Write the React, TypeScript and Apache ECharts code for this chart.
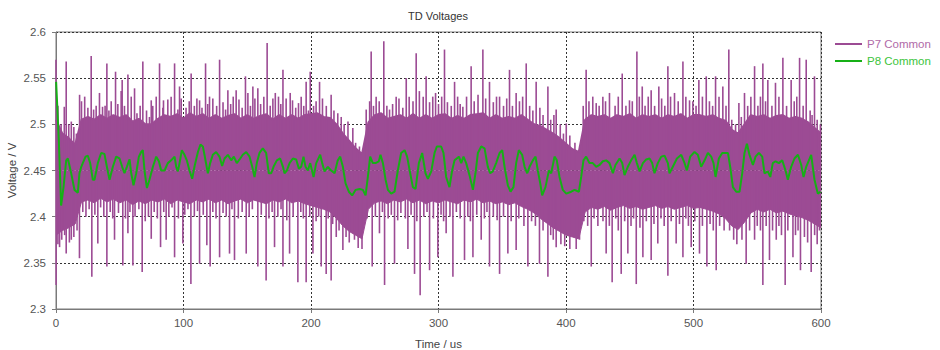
import React, { useEffect, useRef } from "react";
import * as echarts from "echarts";

// ---- Data ----
const chartTitle = "TD Voltages";
const seriesNames = ["P7 Common", "P8 Common"];
const xTicks = [0, 100, 200, 300, 400, 500, 600];
const yTicks = [2.3, 2.35, 2.4, 2.45, 2.5, 2.55, 2.6];

// P7 Common: dense oscillation band, upper/lower envelope every 5 us (t = 0..600)
const p7BandHi = [
  2.505, 2.49, 2.485, 2.478, 2.505, 2.508, 2.505, 2.51, 2.506, 2.51, 2.507, 2.51, 2.503, 2.506, 2.5, 2.5,
  2.506, 2.51, 2.508, 2.511, 2.506, 2.512, 2.508, 2.511, 2.506, 2.51, 2.506, 2.509, 2.511, 2.506, 2.51, 2.506,
  2.509, 2.511, 2.505, 2.51, 2.506, 2.51, 2.506, 2.51, 2.511, 2.512, 2.508, 2.507, 2.5, 2.49, 2.482, 2.474,
  2.468, 2.502, 2.51, 2.512, 2.506, 2.508, 2.51, 2.506, 2.511, 2.506, 2.51, 2.506, 2.51, 2.511, 2.506, 2.509,
  2.506, 2.51, 2.511, 2.512, 2.506, 2.51, 2.506, 2.508, 2.506, 2.51, 2.505, 2.5, 2.498, 2.494, 2.49, 2.485,
  2.479, 2.473, 2.47, 2.505, 2.51, 2.508, 2.51, 2.506, 2.51, 2.508, 2.511, 2.506, 2.51, 2.508, 2.51, 2.506,
  2.51, 2.508, 2.511, 2.506, 2.51, 2.51, 2.508, 2.51, 2.506, 2.504, 2.494, 2.49, 2.5, 2.51, 2.508, 2.51,
  2.506, 2.509, 2.51, 2.506, 2.508, 2.506, 2.502, 2.496, 2.49,
];
const p7BandLo = [
  2.38, 2.385, 2.388, 2.392, 2.416, 2.418, 2.415, 2.42, 2.416, 2.419, 2.415, 2.418, 2.413, 2.417, 2.414, 2.418,
  2.416, 2.419, 2.414, 2.418, 2.416, 2.414, 2.418, 2.416, 2.419, 2.415, 2.418, 2.414, 2.417, 2.419, 2.415, 2.418,
  2.416, 2.414, 2.418, 2.416, 2.419, 2.415, 2.417, 2.414, 2.412, 2.41, 2.408, 2.405, 2.398, 2.39, 2.384, 2.38,
  2.376, 2.408, 2.415, 2.417, 2.414, 2.418, 2.416, 2.419, 2.415, 2.418, 2.414, 2.417, 2.415, 2.418, 2.416, 2.414,
  2.418, 2.416, 2.419, 2.415, 2.417, 2.414, 2.416, 2.413, 2.415, 2.411, 2.408, 2.404, 2.398, 2.393, 2.388, 2.384,
  2.38, 2.378, 2.376, 2.405, 2.41, 2.408, 2.411, 2.407, 2.41, 2.412, 2.409, 2.411, 2.408, 2.41, 2.412, 2.409,
  2.411, 2.408, 2.41, 2.412, 2.409, 2.41, 2.408, 2.406, 2.403, 2.398, 2.39, 2.386, 2.394, 2.404, 2.408, 2.405,
  2.408, 2.404, 2.406, 2.403, 2.401, 2.399, 2.396, 2.392, 2.388,
];
const p7BandStep = 5;
const p7BandMid = 2.45;

// P7 Common: large spikes [time us, peak V]
const p7UpSpikes: [number, number][] = [
  [0, 2.57], [8, 2.568], [12, 2.503], [18.5, 2.532], [27.6, 2.574], [34.1, 2.534], [39.9, 2.566], [46.7, 2.557],
  [51.9, 2.548], [56.4, 2.554], [61.6, 2.539], [68.1, 2.568], [74.7, 2.526], [81.2, 2.566], [84.3, 2.526],
  [93, 2.566], [96.9, 2.541], [106, 2.555], [112.6, 2.526], [117.3, 2.566], [120.4, 2.53], [128.3, 2.57],
  [134.8, 2.537], [141.3, 2.537], [148.6, 2.552], [154.4, 2.541], [158.3, 2.539], [165.6, 2.588], [170.1, 2.528],
  [178, 2.559], [183.7, 2.534], [190.2, 2.523], [196.2, 2.546], [199.4, 2.557], [206.7, 2.546], [215.8, 2.532],
  [223.7, 2.508], [232.8, 2.496], [243.3, 2.516], [247.2, 2.579], [251.1, 2.53], [257.1, 2.59], [261.6, 2.516],
  [266.8, 2.53], [274.7, 2.55], [282.5, 2.577], [290.3, 2.552], [297.7, 2.534], [304.7, 2.581], [312.6, 2.546],
  [319.1, 2.519], [325.6, 2.563], [334.8, 2.581], [340, 2.546], [347.9, 2.53], [355.7, 2.559], [360.9, 2.534],
  [368.8, 2.566], [376.6, 2.546], [385.8, 2.541], [392.3, 2.516], [400.2, 2.501], [415.8, 2.559], [423.7, 2.523],
  [428.9, 2.53], [434.1, 2.534], [444.1, 2.555], [449.8, 2.526], [455.6, 2.579], [459.8, 2.541], [466.8, 2.537],
  [472.8, 2.541], [479.9, 2.563], [485.1, 2.534], [491.7, 2.568], [496.9, 2.526], [504.2, 2.548], [510, 2.552],
  [517.3, 2.552], [523, 2.541], [527.7, 2.581], [535.6, 2.523], [540, 2.534], [547.9, 2.563], [554.4, 2.566],
  [558.3, 2.548], [564.3, 2.545], [570.1, 2.572], [576.6, 2.548], [583.2, 2.572], [588.4, 2.57], [594.9, 2.552],
];
const p7DownSpikes: [number, number][] = [
  [0.1, 2.326], [2.8, 2.367], [8, 2.36], [12, 2.375], [18.4, 2.355], [28.1, 2.335], [32.8, 2.371], [39.9, 2.346],
  [45.9, 2.375], [52.4, 2.347], [56.4, 2.382], [60.3, 2.347], [67.6, 2.34], [74.7, 2.376], [82, 2.367],
  [86.4, 2.375], [93, 2.356], [99.5, 2.371], [105.8, 2.327], [112.6, 2.349], [118.3, 2.369], [120.9, 2.346],
  [128.3, 2.356], [136.1, 2.36], [140, 2.353], [149.2, 2.36], [158.3, 2.346], [164.8, 2.331], [171.4, 2.367],
  [178, 2.346], [183.2, 2.36], [189.7, 2.329], [196.2, 2.329], [201.5, 2.36], [208, 2.346], [211.9, 2.338],
  [215.8, 2.331], [219.8, 2.378], [225, 2.364], [234.1, 2.375], [248, 2.346], [253.7, 2.382], [257.7, 2.326],
  [265.5, 2.349], [276, 2.365], [281.2, 2.338], [285.6, 2.315], [293, 2.342], [299.5, 2.356], [306, 2.382],
  [311.3, 2.335], [320.4, 2.353], [327, 2.356], [333.5, 2.375], [340, 2.346], [347.9, 2.338], [354.4, 2.36],
  [360.9, 2.364], [370.1, 2.346], [379.2, 2.349], [385.8, 2.335], [392.3, 2.367], [410.6, 2.375], [419.8, 2.346],
  [431.5, 2.36], [436.2, 2.329], [443.3, 2.338], [448.5, 2.36], [455.1, 2.327], [460.3, 2.356], [466.8, 2.353],
  [472, 2.371], [479.9, 2.336], [486.4, 2.371], [491.7, 2.356], [498.2, 2.367], [504.7, 2.36], [510.5, 2.346],
  [517.8, 2.342], [528.3, 2.385], [541.3, 2.349], [547.9, 2.375], [554.4, 2.326], [559.6, 2.353], [564.9, 2.375],
  [571.9, 2.326], [578, 2.356], [583.9, 2.342], [592.3, 2.34], [598.8, 2.385],
];

// P7 Common: small fringe spikes along the band edges [time us, peak V]
const p7FringeUp: [number, number][] = [
  [1.5, 2.52], [4, 2.5], [6.5, 2.519], [10, 2.5], [14, 2.497], [16, 2.49], [20, 2.525], [22.5, 2.53], [25, 2.518],
  [29.5, 2.516], [31.5, 2.52], [36.5, 2.519], [38.5, 2.52], [41.5, 2.515], [43.3, 2.525], [48.5, 2.522],
  [51.1, 2.536], [53.7, 2.52], [59, 2.53], [63.5, 2.512], [66, 2.52], [71, 2.515], [73.3, 2.508], [75.9, 2.52],
  [78.6, 2.53], [83.8, 2.518], [87.7, 2.527], [90.3, 2.53], [95.6, 2.516], [98.2, 2.528], [102, 2.518],
  [104.5, 2.525], [108.5, 2.52], [110.5, 2.528], [114.5, 2.518], [119, 2.522], [123, 2.528], [126, 2.52],
  [131, 2.524], [133, 2.516], [137, 2.522], [139, 2.53], [143.5, 2.527], [146, 2.518], [150.5, 2.534],
  [152.5, 2.52], [156, 2.528], [160.5, 2.522], [163, 2.53], [168, 2.52], [172, 2.534], [174.5, 2.53],
  [176.3, 2.522], [180.5, 2.528], [185.5, 2.526], [188, 2.518], [192.3, 2.53], [194.3, 2.52], [198, 2.515],
  [202, 2.52], [204, 2.525], [209, 2.528], [212, 2.52], [218, 2.515], [221, 2.512], [226, 2.5], [229, 2.503],
  [235, 2.48], [238, 2.476], [246, 2.525], [249, 2.52], [253.5, 2.525], [259.5, 2.52], [264, 2.522], [269, 2.528],
  [272, 2.518], [277, 2.53], [280, 2.525], [285, 2.536], [288, 2.53], [293, 2.524], [295.5, 2.53], [300, 2.522],
  [302.5, 2.53], [307, 2.524], [310, 2.52], [315, 2.53], [317, 2.522], [322, 2.53], [328, 2.525], [331, 2.532],
  [337, 2.528], [343, 2.524], [345.5, 2.53], [351, 2.52], [353.5, 2.528], [358, 2.52], [363.5, 2.525],
  [366, 2.53], [371.5, 2.52], [374, 2.515], [379.5, 2.518], [382, 2.51], [388, 2.505], [390.5, 2.51],
  [395.5, 2.5], [398, 2.49], [403, 2.488], [407, 2.48], [413.5, 2.52], [418, 2.525], [421, 2.53], [426, 2.52],
  [431, 2.525], [438.5, 2.52], [441, 2.53], [447, 2.52], [452, 2.525], [457.5, 2.53], [462, 2.52], [464.5, 2.53],
  [469.5, 2.52], [475, 2.528], [477.5, 2.52], [482, 2.53], [488, 2.525], [494, 2.53], [499.5, 2.525], [502, 2.52],
  [507, 2.53], [512.5, 2.525], [515, 2.52], [520, 2.53], [525.5, 2.52], [530, 2.505], [533, 2.5], [537.5, 2.508],
  [542.5, 2.52], [545, 2.53], [550.5, 2.52], [552.5, 2.53], [556.5, 2.525], [561.5, 2.52], [567, 2.53],
  [573, 2.52], [579, 2.525], [581, 2.53], [586, 2.52], [591.5, 2.515], [593, 2.51], [597, 2.505], [599.5, 2.5],
];
const p7FringeDown: [number, number][] = [
  [1.5, 2.37], [4.5, 2.375], [6.8, 2.38], [10.5, 2.372], [14, 2.378], [16.5, 2.385], [21, 2.405], [23.5, 2.4],
  [26, 2.408], [30.5, 2.402], [35, 2.41], [37.5, 2.4], [42.5, 2.405], [44.5, 2.398], [49, 2.404], [54.5, 2.398],
  [58, 2.405], [62, 2.4], [65, 2.408], [70, 2.395], [72.5, 2.4], [77, 2.405], [79.5, 2.398], [84.5, 2.405],
  [88.5, 2.4], [91, 2.41], [96, 2.398], [101, 2.402], [103.5, 2.408], [108.5, 2.4], [111, 2.406], [115.5, 2.402],
  [123, 2.405], [125.5, 2.398], [131, 2.404], [133.5, 2.4], [138, 2.408], [143, 2.398], [146, 2.405],
  [151.5, 2.4], [154, 2.408], [161, 2.402], [167, 2.398], [169.5, 2.405], [174, 2.4], [176.5, 2.408],
  [181, 2.396], [186, 2.4], [192, 2.405], [194, 2.398], [199, 2.4], [204, 2.395], [206, 2.4], [213.5, 2.398],
  [217, 2.392], [222, 2.385], [227.5, 2.378], [230, 2.372], [237, 2.366], [240, 2.365], [244, 2.398],
  [250.5, 2.4], [256, 2.405], [260.5, 2.398], [263, 2.402], [268, 2.396], [270.5, 2.404], [274, 2.398],
  [278.5, 2.402], [283, 2.395], [288.5, 2.4], [291, 2.405], [296, 2.398], [302, 2.402], [304, 2.395], [309, 2.4],
  [314, 2.405], [317, 2.398], [323, 2.4], [325, 2.395], [330, 2.402], [336, 2.398], [338, 2.405], [343, 2.4],
  [346, 2.396], [351, 2.4], [357, 2.395], [363, 2.398], [367, 2.39], [373, 2.395], [376, 2.39], [382, 2.385],
  [388, 2.38], [390, 2.375], [396, 2.37], [399, 2.368], [403, 2.365], [408, 2.365], [414, 2.395], [417, 2.39],
  [422, 2.398], [425, 2.39], [429, 2.395], [434, 2.39], [439, 2.398], [441, 2.385], [446, 2.395], [451, 2.39],
  [453, 2.398], [458, 2.388], [463, 2.395], [469, 2.392], [474.5, 2.398], [477, 2.39], [482.5, 2.395],
  [489, 2.392], [494, 2.398], [496, 2.39], [501, 2.395], [507, 2.39], [513, 2.392], [515.5, 2.385], [520.5, 2.39],
  [524, 2.385], [531.5, 2.375], [534, 2.37], [538, 2.375], [544, 2.385], [550, 2.39], [552.5, 2.385], [557, 2.39],
  [562, 2.385], [567, 2.39], [569, 2.38], [574, 2.385], [580, 2.38], [582, 2.385], [587, 2.378], [589.5, 2.372],
  [595, 2.38], [597, 2.37],
];

// P8 Common trace
const p8Times = [
  0.1, 2.2, 4, 5.9, 8, 9.3, 11.9, 14.5, 17.1, 18.4, 19.8, 21, 23.2, 25, 26.8, 28.9, 30.2, 32.8, 35.4, 38, 39.9,
  42, 44.6, 47.2, 49.8, 51.9, 53.7, 55.6, 57.7, 59, 60.8, 62.9, 65, 66.8, 68.1, 69.4, 71.3, 73.3, 76, 78.6, 80.7,
  82.5, 85.1, 87.7, 90.3, 93, 94.3, 95.6, 96.9, 98.7, 100.8, 102.6, 104.7, 106.8, 108.6, 111.3, 113.3, 115.2,
  117, 119.1, 120.9, 123, 125.6, 128.2, 130.3, 132.2, 134.8, 137.4, 139.5, 141.8, 144.5, 146.5, 149.2, 151.8,
  153.9, 155.7, 157.5, 159.6, 162.2, 164.8, 166.9, 168.8, 170.6, 173.2, 175.8, 178, 179.2, 181.1, 183.2, 185.8,
  188.4, 190.5, 192.3, 194.1, 195.7, 197.5, 199.4, 202, 204.1, 207.2, 208.8, 210.6, 213.2, 215.8, 218.5, 221,
  222.9, 225, 227.1, 229.7, 232.3, 234.9, 238.1, 240.7, 242.8, 244.6, 246.4, 248.5, 250.6, 253.2, 254.5, 256.4,
  258.5, 260.3, 262.9, 265.5, 268.1, 270.7, 273.4, 275.4, 277.8, 279.9, 282, 284.6, 287.2, 289.8, 291.7, 294.3,
  296.9, 298.7, 302.1, 303.9, 306, 308.6, 310.7, 312.6, 316, 317.8, 319.6, 321.7, 324.3, 327, 329, 330.9, 333.5,
  336.1, 338.7, 340.5, 342.6, 345.2, 347.9, 350, 351.8, 354.4, 356.5, 358.8, 360.9, 363, 365.6, 367.5, 369.6,
  371.4, 374, 376.1, 377.9, 379.8, 381.3, 383.9, 386.6, 388.4, 391, 392.8, 394.9, 397.5, 400.2, 404.1, 406.7,
  410.1, 411.9, 413.7, 415.8, 418.4, 421, 423.7, 426.3, 428.9, 431.5, 434.1, 436.8, 438.8, 442, 444.1, 445.9,
  448.5, 451.1, 453.8, 455.6, 457.7, 460.3, 462.9, 465.5, 467.6, 469.4, 472, 474.7, 477.3, 479.9, 481.2, 483.8,
  487, 490.4, 493, 494.8, 497.4, 500.8, 503.4, 506, 508.7, 511.3, 513.9, 515.7, 517.3, 519.9, 522.5, 527, 528.8,
  530.9, 533.5, 536.1, 538.2, 540, 541.9, 543.9, 546.6, 548.7, 551.3, 553.9, 555.7, 558.3, 560.2, 562.2, 564.3,
  567, 569.6, 572.2, 574, 576.6, 579.2, 581.9, 584.5, 586.3, 588.4, 590.5, 592.3, 594.9, 597.5, 599.6,
];
const p8Values = [
  2.546, 2.483, 2.412, 2.432, 2.461, 2.463, 2.447, 2.429, 2.426, 2.447, 2.454, 2.458, 2.465, 2.466, 2.458, 2.44,
  2.44, 2.458, 2.469, 2.468, 2.454, 2.44, 2.454, 2.465, 2.463, 2.454, 2.447, 2.454, 2.462, 2.447, 2.434, 2.447,
  2.465, 2.47, 2.472, 2.45, 2.431, 2.44, 2.454, 2.465, 2.46, 2.45, 2.45, 2.458, 2.461, 2.465, 2.454, 2.449, 2.458,
  2.472, 2.467, 2.461, 2.45, 2.441, 2.454, 2.47, 2.478, 2.476, 2.463, 2.447, 2.458, 2.467, 2.47, 2.465, 2.455,
  2.463, 2.467, 2.461, 2.465, 2.458, 2.463, 2.467, 2.47, 2.465, 2.454, 2.443, 2.458, 2.469, 2.474, 2.469, 2.447,
  2.447, 2.454, 2.461, 2.463, 2.454, 2.447, 2.45, 2.458, 2.463, 2.462, 2.452, 2.454, 2.465, 2.454, 2.45, 2.458,
  2.443, 2.458, 2.467, 2.458, 2.449, 2.454, 2.45, 2.447, 2.461, 2.465, 2.454, 2.436, 2.427, 2.423, 2.429, 2.43,
  2.429, 2.423, 2.443, 2.465, 2.458, 2.458, 2.46, 2.467, 2.458, 2.44, 2.429, 2.425, 2.427, 2.45, 2.469, 2.472,
  2.465, 2.447, 2.432, 2.43, 2.458, 2.469, 2.447, 2.441, 2.449, 2.469, 2.476, 2.476, 2.469, 2.443, 2.432, 2.45,
  2.461, 2.465, 2.458, 2.465, 2.458, 2.445, 2.429, 2.447, 2.469, 2.476, 2.474, 2.454, 2.447, 2.449, 2.458, 2.469,
  2.472, 2.454, 2.434, 2.427, 2.432, 2.458, 2.472, 2.467, 2.454, 2.447, 2.454, 2.461, 2.465, 2.45, 2.436, 2.423,
  2.432, 2.45, 2.447, 2.465, 2.461, 2.443, 2.429, 2.425, 2.427, 2.429, 2.427, 2.443, 2.461, 2.465, 2.458, 2.458,
  2.454, 2.456, 2.46, 2.461, 2.458, 2.447, 2.456, 2.463, 2.458, 2.445, 2.454, 2.461, 2.467, 2.458, 2.449, 2.458,
  2.462, 2.463, 2.458, 2.447, 2.458, 2.465, 2.466, 2.458, 2.447, 2.454, 2.463, 2.467, 2.458, 2.45, 2.465, 2.47,
  2.467, 2.454, 2.461, 2.469, 2.465, 2.458, 2.443, 2.463, 2.469, 2.469, 2.454, 2.432, 2.427, 2.427, 2.447, 2.469,
  2.479, 2.467, 2.456, 2.465, 2.469, 2.465, 2.447, 2.449, 2.443, 2.458, 2.46, 2.458, 2.461, 2.45, 2.44, 2.454,
  2.463, 2.467, 2.456, 2.443, 2.454, 2.461, 2.467, 2.44, 2.425, 2.427,
];

// ---- Styles ----
const P7_COLOR = "#9c4b94";
const P7_TEXT = "#b06aa8";
const P8_COLOR = "#16b016";
const P8_TEXT = "#3cc43c";
const FONT = "Liberation Sans";

export default function App() {
  const ref = useRef<HTMLDivElement>(null);

  useEffect(() => {
    if (!ref.current) return;
    const chart = echarts.init(ref.current, undefined, { renderer: "svg" });

    const bandLo = p7BandLo.map((v, i) => [i * p7BandStep, v]);
    const bandHi = p7BandHi.map((v, i) => [i * p7BandStep, v]);
    const p8Data = p8Times.map((t, i) => [t, p8Values[i]]);
    const spikeData = [...p7FringeUp, ...p7FringeDown, ...p7UpSpikes, ...p7DownSpikes];

    const spikeRender = (params: any, api: any) => {
      const t = api.value(0);
      const p1 = api.coord([t, p7BandMid]);
      const p2 = api.coord([t, api.value(1)]);
      return {
        type: "line",
        shape: { x1: p1[0], y1: p1[1], x2: p2[0], y2: p2[1] },
        style: { stroke: P7_COLOR, lineWidth: 1.6, fill: "none" },
      };
    };

    chart.setOption({
      animation: false,
      title: {
        text: chartTitle,
        left: 403,
        top: 5,
        textStyle: { fontFamily: FONT, fontSize: 11, fontWeight: "normal", color: "#333" },
      },
      legend: {
        orient: "vertical",
        left: 830,
        top: 33,
        itemWidth: 27,
        itemHeight: 2,
        itemGap: 5,
        icon: "rect",
        data: [
          { name: seriesNames[0], textStyle: { color: P7_TEXT } },
          { name: seriesNames[1], textStyle: { color: P8_TEXT } },
        ],
        textStyle: { fontFamily: FONT, fontSize: 11.5 },
      },
      grid: {
        left: 56,
        right: 119,
        top: 32,
        bottom: 41,
        show: true,
        borderColor: "#7a7a7a",
        borderWidth: 1,
        backgroundColor: "transparent",
        outerBoundsMode: "none",
        containLabel: false,
      },
      xAxis: {
        type: "value",
        min: 0,
        max: 600,
        interval: 100,
        name: "Time / us",
        nameLocation: "middle",
        nameGap: 29,
        nameMoveOverlap: false,
        nameTextStyle: { fontFamily: FONT, fontSize: 11.5, color: "#444" },
        axisLine: { show: true, lineStyle: { color: "#7a7a7a" } },
        axisTick: { show: true, length: 4, lineStyle: { color: "#7a7a7a" } },
        axisLabel: {
          fontFamily: FONT,
          fontSize: 11.5,
          color: "#555",
          margin: 8,
          formatter: (v: number) => (xTicks.includes(v) ? String(v) : ""),
        },
        splitLine: { show: true, lineStyle: { color: "#333", type: [2, 2], width: 1 } },
      },
      yAxis: {
        type: "value",
        min: 2.3,
        max: 2.6,
        interval: 0.05,
        name: "Voltage / V",
        nameLocation: "middle",
        nameGap: 38,
        nameMoveOverlap: false,
        nameTextStyle: { fontFamily: FONT, fontSize: 11.5, color: "#444" },
        axisLine: { show: true, lineStyle: { color: "#7a7a7a" } },
        axisTick: { show: true, length: 4, lineStyle: { color: "#7a7a7a" } },
        axisLabel: {
          fontFamily: FONT,
          fontSize: 11.5,
          color: "#555",
          margin: 10,
          formatter: (v: number) => {
            const r = Math.round(v * 100) / 100;
            const found = yTicks.find((y) => Math.abs(y - r) < 1e-6);
            return found !== undefined ? String(found) : "";
          },
        },
        splitLine: { show: true, lineStyle: { color: "#333", type: [2, 2], width: 1 } },
      },
      series: [
        {
          name: "p7loArea",
          type: "line",
          data: bandLo,
          symbol: "none",
          silent: true,
          lineStyle: { color: P7_COLOR, width: 1 },
          itemStyle: { color: P7_COLOR },
          areaStyle: { color: P7_COLOR, opacity: 1, origin: p7BandMid },
          z: 2,
        },
        {
          name: "p7hiArea",
          type: "line",
          data: bandHi,
          symbol: "none",
          silent: true,
          lineStyle: { width: 0 },
          itemStyle: { color: P7_COLOR },
          areaStyle: { color: P7_COLOR, opacity: 1, origin: p7BandMid },
          z: 2,
        },
        {
          name: "p7spikes",
          type: "custom",
          data: spikeData,
          renderItem: spikeRender,
          silent: true,
          z: 3,
        },
        {
          // upper edge of the P7 band; also carries the legend entry
          name: seriesNames[0],
          type: "line",
          data: bandHi,
          symbol: "none",
          lineStyle: { color: P7_COLOR, width: 2 },
          itemStyle: { color: P7_COLOR },
          z: 3,
        },
        {
          name: seriesNames[1],
          type: "line",
          data: p8Data,
          symbol: "none",
          lineStyle: { color: P8_COLOR, width: 2 },
          itemStyle: { color: P8_COLOR },
          z: 5,
        },
      ],
    });

    return () => chart.dispose();
  }, []);

  return (
    <div
      ref={ref}
      style={{ position: "fixed", left: 0, top: 0, width: 940, height: 350, background: "#fff" }}
    />
  );
}
